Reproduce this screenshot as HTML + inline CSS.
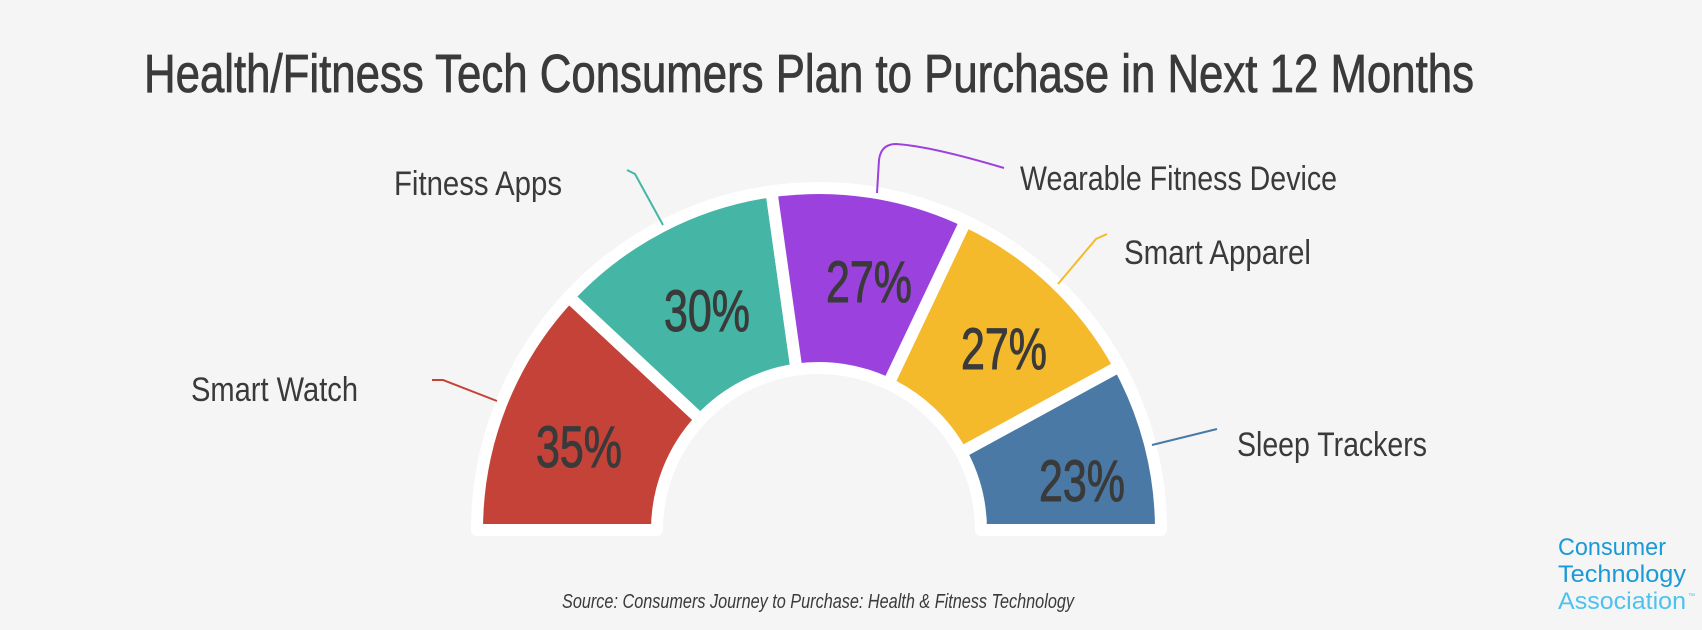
<!DOCTYPE html>
<html><head><meta charset="utf-8"><style>
html,body{margin:0;padding:0;background:#f5f5f5;}
svg{display:block;}
.t{font-family:"Liberation Sans",sans-serif;fill:#3a3a3a;}
</style></head><body>
<svg id="s" width="1702" height="630" viewBox="0 0 1702 630" xmlns="http://www.w3.org/2000/svg">
<rect width="1702" height="630" fill="#f5f5f5"/>
<text class="t" x="144" y="92" font-size="54" stroke="#3a3a3a" stroke-width="0.8" textLength="1330" lengthAdjust="spacingAndGlyphs">Health/Fitness Tech Consumers Plan to Purchase in Next 12 Months</text>
<g id="segs"></g>
<g fill="none" stroke-width="2">
<polyline points="432,380 443,380 497,401" stroke="#c54239"/>
<polyline points="627,170 635,174 663,225" stroke="#45b6a5"/>
<path d="M877,193 L879,160 Q881,144 896,144 Q930,146 1004,168" stroke="#9b42de"/>
<polyline points="1058,284 1096,239 1107,234" stroke="#f5b92c"/>
<polyline points="1152,445 1217,429" stroke="#4a79a5"/>
</g>
<text class="t" x="394" y="195" font-size="34" textLength="168" lengthAdjust="spacingAndGlyphs">Fitness Apps</text>
<text class="t" x="1020" y="190" font-size="34" textLength="317" lengthAdjust="spacingAndGlyphs">Wearable Fitness Device</text>
<text class="t" x="1124" y="264" font-size="34" textLength="187" lengthAdjust="spacingAndGlyphs">Smart Apparel</text>
<text class="t" x="191" y="401" font-size="34" textLength="167" lengthAdjust="spacingAndGlyphs">Smart Watch</text>
<text class="t" x="1237" y="456" font-size="34" textLength="190" lengthAdjust="spacingAndGlyphs">Sleep Trackers</text>
<g class="t" font-size="58" stroke="#3a3a3a" stroke-width="1">
<text x="536" y="467" textLength="86" lengthAdjust="spacingAndGlyphs">35%</text>
<text x="664" y="331" textLength="86" lengthAdjust="spacingAndGlyphs">30%</text>
<text x="826" y="302" textLength="86" lengthAdjust="spacingAndGlyphs">27%</text>
<text x="961" y="369" textLength="86" lengthAdjust="spacingAndGlyphs">27%</text>
<text x="1039" y="501" textLength="86" lengthAdjust="spacingAndGlyphs">23%</text>
</g>
<text class="t" x="562" y="608" font-size="20" font-style="italic" textLength="512" lengthAdjust="spacingAndGlyphs">Source: Consumers Journey to Purchase: Health &amp; Fitness Technology</text>
<g font-family="Liberation Sans,sans-serif" font-size="24">
<text x="1558" y="555" fill="#1a9ad6" textLength="108" lengthAdjust="spacingAndGlyphs">Consumer</text>
<text x="1558" y="582" fill="#1a9ad6" textLength="128" lengthAdjust="spacingAndGlyphs">Technology</text>
<text x="1558" y="609" fill="#4cc3ef" textLength="128" lengthAdjust="spacingAndGlyphs">Association</text>
<text x="1688" y="598" fill="#4cc3ef" font-size="7">™</text>
</g>
</svg>
<script>
(function(){
var cx=819,cy=530,R=342,r=162;
var b=[180,137,98,64.6,28.6,0];
var c=["#c54239","#45b6a5","#9b42de","#f5b92c","#4a79a5"];
var g=document.getElementById("segs"),h="";
function p(rad,a){var t=a*Math.PI/180;return (cx+rad*Math.cos(t)).toFixed(1)+","+(cy-rad*Math.sin(t)).toFixed(1);}
for(var i=0;i<5;i++){
var a1=b[i],a2=b[i+1];
var d="M"+p(R,a1)+" A"+R+","+R+" 0 0 1 "+p(R,a2)+" L"+p(r,a2)+" A"+r+","+r+" 0 0 0 "+p(r,a1)+" Z";
h+='<path d="'+d+'" fill="'+c[i]+'" stroke="#fff" stroke-width="12" stroke-linejoin="round"/>';
}
g.innerHTML=h;
})();
</script>
</body></html>
